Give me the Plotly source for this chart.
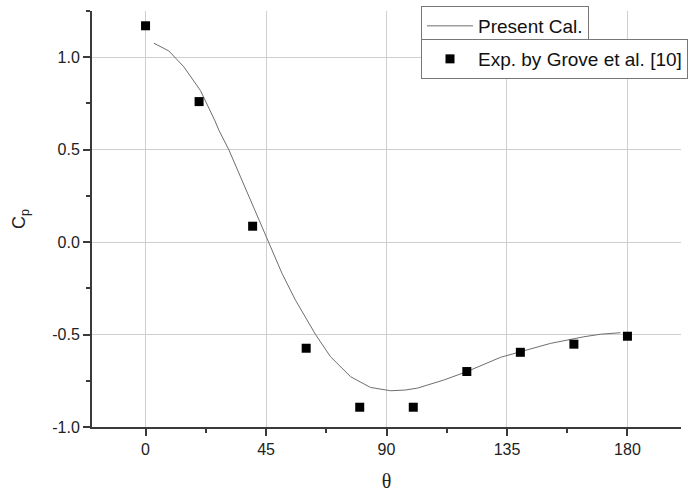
import plotly.graph_objects as go

# Present calculation (curve)
cal_theta = [3.1, 8.7, 14.3, 20.5, 25.8, 27.4, 31.1, 38.0, 46.0, 51.0, 56.0, 60.4, 63.5, 69.1, 76.6, 84.0,
             91.5, 97.0, 101.5, 111.4, 120.1, 132.6, 140.0, 151.2, 163.7, 170.0, 177.4]
cal_cp = [1.076, 1.034, 0.948, 0.82, 0.66, 0.605, 0.50, 0.27, 0.0, -0.17, -0.314, -0.42, -0.50, -0.62, -0.728, -0.786,
          -0.804, -0.800, -0.79, -0.746, -0.70, -0.623, -0.593, -0.548, -0.512, -0.498, -0.49]

# Experimental data
exp_theta = [0, 20, 40, 60, 80, 100, 120, 140, 160, 180]
exp_cp = [1.17, 0.76, 0.086, -0.574, -0.893, -0.893, -0.70, -0.596, -0.552, -0.509]

x_ticks = [0, 45, 90, 135, 180]
y_ticks = [-1.0, -0.5, 0.0, 0.5, 1.0]

font_family = "Liberation Sans, Arial, sans-serif"

fig = go.Figure()
fig.add_trace(go.Scatter(x=cal_theta, y=cal_cp, mode="lines", name="Present Cal.",
                         line=dict(color="#6e6e6e", width=1), legend="legend"))
fig.add_trace(go.Scatter(x=exp_theta, y=exp_cp, mode="markers", name="Exp. by Grove et al. [10]",
                         marker=dict(symbol="square", size=9, color="black"), legend="legend2"))

axis_common = dict(
    showline=True, linecolor="#3a3a3a", linewidth=2,
    ticks="outside", ticklen=7, tickwidth=1.5, tickcolor="#3a3a3a",
    showgrid=True, gridcolor="#cfcfcf", gridwidth=1,
    zeroline=False, mirror=False, automargin=False,
    tickfont=dict(family=font_family, size=16, color="#222"),
)

fig.update_layout(
    width=699, height=492,
    margin=dict(l=92, r=18, t=11, b=65, autoexpand=False),
    paper_bgcolor="white", plot_bgcolor="white",
    showlegend=True,
    xaxis=dict(range=[-20, 200], tickmode="array", tickvals=x_ticks,
               ticktext=[str(v) for v in x_ticks],
               minor=dict(ticks="outside", ticklen=4, tickcolor="#3a3a3a", dtick=22.5, tick0=0, showgrid=False),
               title=dict(text="θ", font=dict(family="Liberation Serif, Times New Roman, serif", size=20, color="#222"), standoff=22),
               **axis_common),
    yaxis=dict(range=[-1.0, 1.25], tickmode="array", tickvals=y_ticks,
               ticktext=["-1.0", "-0.5", "0.0", "0.5", "1.0"],
               minor=dict(ticks="outside", ticklen=4, tickcolor="#3a3a3a", dtick=0.25, tick0=0, showgrid=False),
               title=dict(text="C<sub>p</sub>", font=dict(family=font_family, size=18, color="#222"), standoff=22),
               **axis_common),
    legend=dict(x=(421 - 92) / 589, y=(427 - 26) / 416, xanchor="left", yanchor="middle",
                bordercolor="#777", borderwidth=1, bgcolor="white", itemwidth=46,
                font=dict(family=font_family, size=19, color="#111"), tracegroupgap=0),
    legend2=dict(x=(421 - 92) / 589, y=(427 - 59) / 416, xanchor="left", yanchor="middle",
                 bordercolor="#777", borderwidth=1, bgcolor="white", itemwidth=46,
                 font=dict(family=font_family, size=19, color="#111"), tracegroupgap=0),
)

fig.write_html("out.html")
